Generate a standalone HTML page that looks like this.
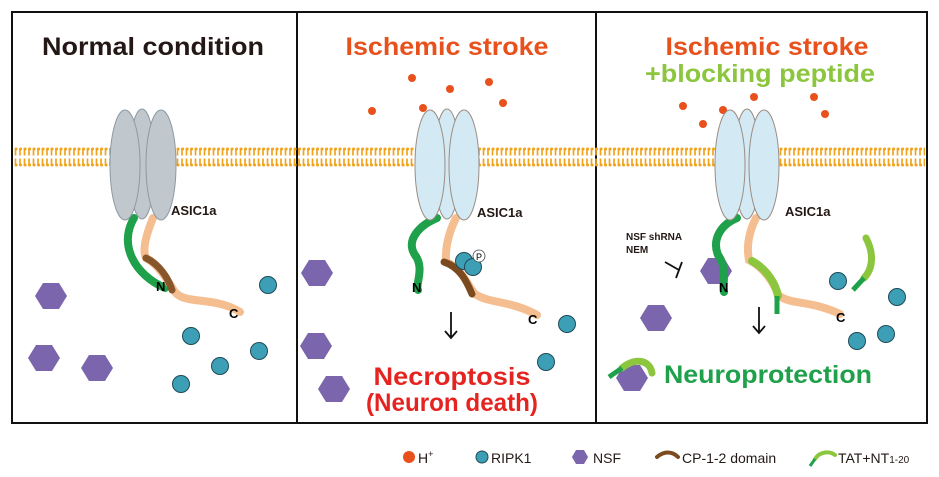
<!DOCTYPE html>
<html><head><meta charset="utf-8"><style>
html,body{margin:0;padding:0;background:#fff}
svg{display:block}
text{font-family:"Liberation Sans",sans-serif}
</style></head><body>
<svg width="939" height="477" viewBox="0 0 939 477" xmlns="http://www.w3.org/2000/svg">
<defs>
<pattern id="mem" x="0" y="146" width="4.5" height="22" patternUnits="userSpaceOnUse">
<line x1="2" y1="2" x2="2" y2="9.5" stroke="#f2a31c" stroke-width="1.7"/>
<circle cx="2.6" cy="3" r="1.5" fill="#f2a31c"/>
<line x1="2" y1="12.5" x2="2" y2="20" stroke="#f2a31c" stroke-width="1.7"/>
<circle cx="2.6" cy="19" r="1.5" fill="#f2a31c"/>
</pattern>
<g id="hex"><polygon points="-16,0 -8,-13 8,-13 16,0 8,13 -8,13" fill="#7b66ad"/></g>
<g id="rip"><circle r="8.5" fill="#3d9fb5" stroke="#1e4a56" stroke-width="1"/></g>
</defs>
<rect x="12" y="12" width="915" height="411" fill="none" stroke="#111" stroke-width="2"/>
<line x1="297" y1="12" x2="297" y2="423" stroke="#111" stroke-width="2"/>
<line x1="596" y1="12" x2="596" y2="423" stroke="#111" stroke-width="2"/>
<rect x="14" y="146" width="911" height="22" fill="url(#mem)"/>

<text x="153" y="55" font-size="25" font-weight="bold" fill="#231815" text-anchor="middle" textLength="222" lengthAdjust="spacingAndGlyphs">Normal condition</text>
<text x="447" y="55" font-size="25" font-weight="bold" fill="#e8501c" text-anchor="middle" textLength="203" lengthAdjust="spacingAndGlyphs">Ischemic stroke</text>
<text x="767" y="55" font-size="25" font-weight="bold" fill="#e8501c" text-anchor="middle" textLength="203" lengthAdjust="spacingAndGlyphs">Ischemic stroke</text>
<text x="760" y="82" font-size="25" font-weight="bold" fill="#8cc63f" text-anchor="middle" textLength="230" lengthAdjust="spacingAndGlyphs">+blocking peptide</text>

<!-- Panel 1 -->
<g>
<path d="M134,218 C118,245 135,275 165,288" stroke="#1fa04a" stroke-width="8" fill="none" stroke-linecap="round"/>
<path d="M153,218 C146,235 142,250 146,258 C160,265 170,285 175,292 C185,305 215,296 240,312" stroke="#f5be90" stroke-width="8" fill="none" stroke-linecap="round"/>
<path d="M146,258 C160,265 168,278 172,290" stroke="#7b4a1f" stroke-width="7" fill="none" stroke-linecap="round" opacity="0.9"/>
<ellipse cx="142" cy="164" rx="13" ry="55" fill="#c0c8ce" stroke="#8d9aa3"/>
<ellipse cx="125" cy="165" rx="15" ry="55" fill="#c0c8ce" stroke="#8d9aa3"/>
<ellipse cx="161" cy="165" rx="15" ry="55" fill="#c0c8ce" stroke="#8d9aa3"/>
<text x="171" y="215" font-size="13" font-weight="bold" fill="#231815">ASIC1a</text>
<text x="156" y="291" font-size="13" font-weight="bold">N</text>
<text x="229" y="318" font-size="13" font-weight="bold">C</text>
<use href="#hex" x="51" y="296"/><use href="#hex" x="44" y="358"/><use href="#hex" x="97" y="368"/>
<use href="#rip" x="268" y="285"/><use href="#rip" x="191" y="336"/><use href="#rip" x="259" y="351"/><use href="#rip" x="220" y="366"/><use href="#rip" x="181" y="384"/>
</g>

<!-- Panel 2 -->
<g>
<g fill="#e8501c"><circle cx="372" cy="111" r="4"/><circle cx="412" cy="78" r="4"/><circle cx="450" cy="89" r="4"/><circle cx="489" cy="82" r="4"/><circle cx="503" cy="103" r="4"/><circle cx="423" cy="108" r="4"/></g>
<use href="#hex" x="317" y="273"/>
<path d="M437,218 C420,225 405,240 415,255 C425,268 415,285 418,290" stroke="#1fa04a" stroke-width="8" fill="none" stroke-linecap="round"/>
<path d="M456,218 C450,230 445,245 446,262 C462,268 465,282 475,294 C490,304 510,300 537,315" stroke="#f5be90" stroke-width="8" fill="none" stroke-linecap="round"/>
<path d="M444,262 C462,268 468,285 472,294" stroke="#7b4a1f" stroke-width="7" fill="none" stroke-linecap="round"/>
<ellipse cx="447" cy="164" rx="13" ry="55" fill="#d3eaf5" stroke="#9b8d82"/>
<ellipse cx="430" cy="165" rx="15" ry="55" fill="#d3eaf5" stroke="#9b8d82"/>
<ellipse cx="464" cy="165" rx="15" ry="55" fill="#d3eaf5" stroke="#9b8d82"/>
<text x="477" y="217" font-size="13" font-weight="bold" fill="#231815">ASIC1a</text>
<text x="412" y="292" font-size="13" font-weight="bold">N</text>
<text x="528" y="324" font-size="13" font-weight="bold">C</text>
<use href="#rip" x="464" y="261"/><use href="#rip" x="473" y="267"/>
<circle cx="479" cy="256" r="6" fill="#fff" stroke="#444" stroke-width="0.8"/><text x="479" y="260" font-size="9" text-anchor="middle">P</text>
<use href="#rip" x="567" y="324"/><use href="#rip" x="546" y="362"/>
<use href="#hex" x="316" y="346"/><use href="#hex" x="334" y="389"/>
<path d="M451,312 V337 M445,331 L451,338 L457,331" stroke="#111" stroke-width="1.8" fill="none"/>
<text x="452" y="385" font-size="25" font-weight="bold" fill="#e52421" text-anchor="middle" textLength="157" lengthAdjust="spacingAndGlyphs">Necroptosis</text>
<text x="452" y="411" font-size="25" font-weight="bold" fill="#e52421" text-anchor="middle" textLength="172" lengthAdjust="spacingAndGlyphs">(Neuron death)</text>
</g>

<!-- Panel 3 -->
<g>
<g fill="#e8501c"><circle cx="683" cy="106" r="4"/><circle cx="703" cy="124" r="4"/><circle cx="723" cy="110" r="4"/><circle cx="754" cy="97" r="4"/><circle cx="814" cy="97" r="4"/><circle cx="825" cy="114" r="4"/></g>
<use href="#hex" x="716" y="271"/>
<path d="M737,218 C720,225 712,240 718,255 C728,268 722,285 724,292" stroke="#1fa04a" stroke-width="8" fill="none" stroke-linecap="round"/>
<path d="M756,218 C750,230 746,245 749,260 C765,268 775,285 778,295 C790,305 810,300 840,314" stroke="#f5be90" stroke-width="8" fill="none" stroke-linecap="round"/>
<path d="M752,261 C768,270 776,285 778,296" stroke="#8cc63f" stroke-width="8" fill="none" stroke-linecap="round"/>
<line x1="777" y1="296" x2="777" y2="314" stroke="#1fa04a" stroke-width="5"/>
<ellipse cx="747" cy="164" rx="13" ry="55" fill="#d3eaf5" stroke="#9b8d82"/>
<ellipse cx="730" cy="165" rx="15" ry="55" fill="#d3eaf5" stroke="#9b8d82"/>
<ellipse cx="764" cy="165" rx="15" ry="55" fill="#d3eaf5" stroke="#9b8d82"/>
<text x="785" y="216" font-size="13" font-weight="bold" fill="#231815">ASIC1a</text>
<text x="719" y="292" font-size="13" font-weight="bold">N</text>
<text x="836" y="322" font-size="13" font-weight="bold">C</text>
<text x="626" y="240" font-size="10" font-weight="bold" fill="#231815">NSF shRNA</text>
<text x="626" y="253" font-size="10" font-weight="bold" fill="#231815">NEM</text>
<path d="M665,262 L679,270 M682,262 L676,278" stroke="#111" stroke-width="1.8" fill="none"/>
<path d="M866,238 C875,255 872,270 864,278" stroke="#8cc63f" stroke-width="7" fill="none" stroke-linecap="round"/>
<line x1="864" y1="278" x2="853" y2="290" stroke="#1fa04a" stroke-width="5"/>
<use href="#rip" x="838" y="281"/><use href="#rip" x="897" y="297"/><use href="#rip" x="886" y="334"/><use href="#rip" x="857" y="341"/>
<use href="#hex" x="656" y="318"/>
<path d="M759,307 V332 M753,326 L759,333 L765,326" stroke="#111" stroke-width="1.8" fill="none"/>
<use href="#hex" x="632" y="378"/>
<path d="M622,368 C635,357 650,360 652,373" stroke="#8cc63f" stroke-width="7" fill="none" stroke-linecap="round"/>
<line x1="622" y1="368" x2="609" y2="377" stroke="#1fa04a" stroke-width="5"/>
<text x="664" y="383" font-size="25" font-weight="bold" fill="#1fa04a" textLength="208" lengthAdjust="spacingAndGlyphs">Neuroprotection</text>
</g>

<!-- Legend -->
<circle cx="409" cy="457" r="6" fill="#e8501c"/>
<text x="418" y="463" font-size="14" fill="#231815">H<tspan font-size="9" dy="-6">+</tspan></text>
<circle cx="482" cy="457" r="6" fill="#3d9fb5" stroke="#1e4a56"/>
<text x="491" y="463" font-size="14" fill="#231815">RIPK1</text>
<polygon points="572,457 576,450 584,450 588,457 584,464 576,464" fill="#7b66ad"/>
<text x="593" y="463" font-size="14" fill="#231815">NSF</text>
<path d="M657,457 C664,451 672,451 678,457" stroke="#7b4a1f" stroke-width="4" fill="none" stroke-linecap="round"/>
<text x="682" y="463" font-size="14" fill="#231815">CP-1-2 domain</text>
<path d="M815,459 C820,451 830,451 835,455" stroke="#8cc63f" stroke-width="4" fill="none" stroke-linecap="round"/>
<line x1="815" y1="459" x2="810" y2="466" stroke="#1fa04a" stroke-width="3"/>
<text x="838" y="463" font-size="14" fill="#231815">TAT+NT<tspan font-size="10">1-20</tspan></text>
</svg>
</body></html>
